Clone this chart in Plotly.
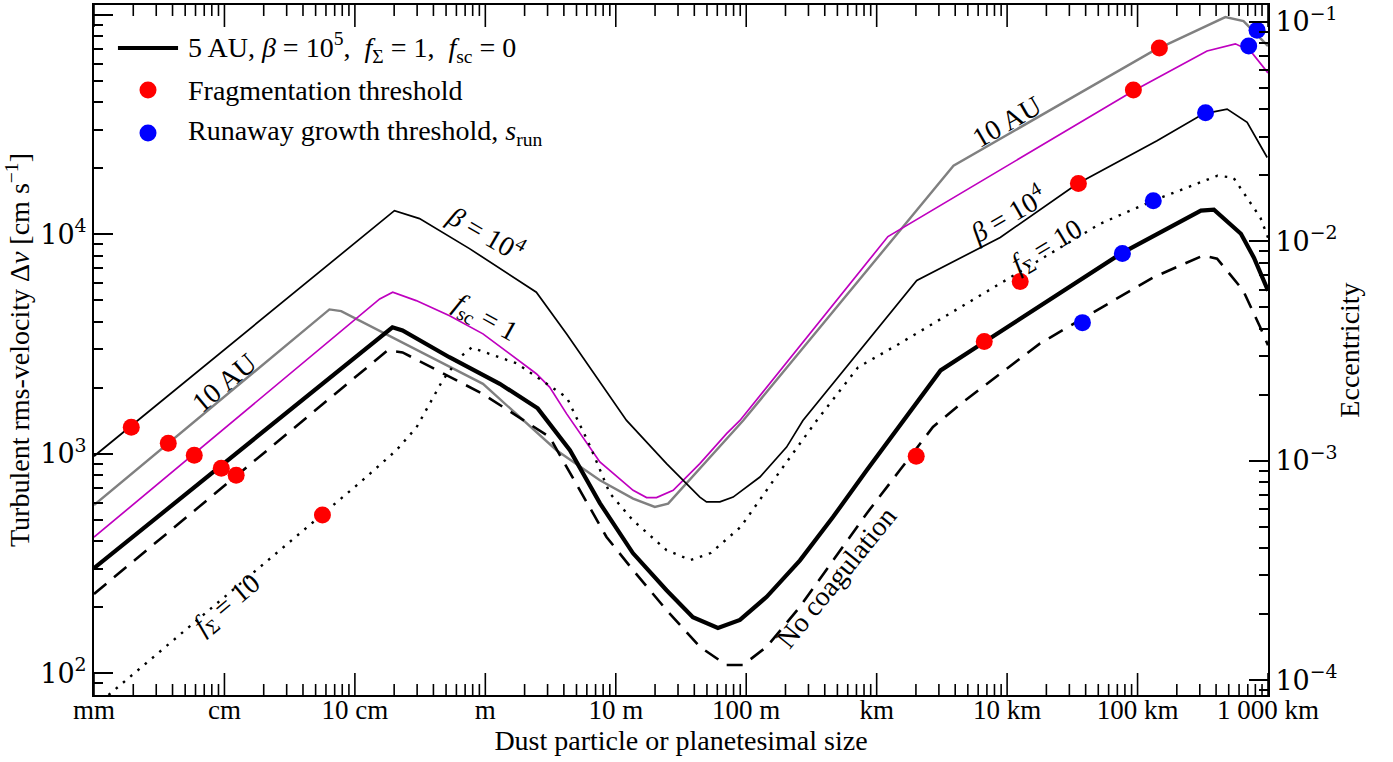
import numpy as np
import plotly.graph_objects as go

# Particle / planetesimal size s [cm] and turbulent rms velocity dv [cm/s]

# 5 AU, beta = 1e5, f_Sigma = 1, f_sc = 0 (reference model)
ref_s = [0.1, 19.4, 23.2, 53, 129, 252, 445, 755, 1352, 2450, 3900, 6070, 8950,
         14350, 25830, 46240, 83900, 160700, 309000, 660000, 7.44e6, 3.06e7,
         3.85e7, 6.2e7, 7.8e7, 1e8]
ref_v = [301, 3770, 3650, 2755, 2085, 1611, 1038, 596, 353, 239, 180, 161, 175,
         223, 327, 515, 841, 1419, 2399, 3213, 8168, 12820,
         12950, 10060, 7830, 5540]

# no coagulation
nocoag_s = [0.1, 17.8, 23.2, 95, 311, 849, 1358, 2450, 4410, 7070, 9440, 14350,
            25830, 46240, 83900, 150300, 270000, 435000, 1.79e6, 1.32e7, 3.18e7,
            4.07e7, 6.45e7, 8.7e7, 1e8]
nocoag_v = [230, 2958, 2898, 1879, 1192, 418, 295, 194, 132, 109, 109, 132,
            201, 327, 535, 841, 1325, 1680, 3185, 6370, 8000,
            7750, 5550, 3780, 3120]

# f_Sigma = 10
fsig_s = [0.1, 5.64, 10.8, 20.8, 29.7, 47, 63.5, 78.5, 174, 421, 631, 900, 1352,
          2450, 3750, 5340, 9060, 18370, 34700, 71900, 151000, 885000, 5.19e6,
          1.32e7, 4.09e7, 5.43e7, 8.75e7, 1e8]
fsig_v = [70, 526, 735, 1038, 1321, 2158, 2748, 3050, 2582, 1807, 1094, 661, 498,
          364, 328, 353, 464, 841, 1419, 2477, 3187, 5970, 11190,
          14240, 18490, 18130, 11900, 9660]

# beta = 1e4
beta_s = [0.1, 20.1, 31.3, 75.6, 246, 419, 1209, 2450, 4410, 4960, 6280, 7940,
          12740, 20400, 27200, 151000, 203000, 885000, 3.43e6, 1.41e7, 3.2e7,
          4.86e7, 6.92e7, 9.86e7]
beta_v = [975, 12820, 11800, 8610, 5450, 3520, 1419, 902, 635, 604, 604, 635,
          784, 1073, 1419, 5000, 6160, 9680, 16940, 26680, 35400,
          37200, 32360, 22400]

# f_sc = 1
fsc_s = [0.1, 15.5, 19.5, 29.5, 53.2, 95.9, 246, 311, 419, 755, 1358, 1722, 2052,
         2754, 4410, 7070, 8950, 122000, 9.33e6, 3.41e7, 5.62e7, 7.34e7, 1e8]
fsc_v = [417, 5080, 5450, 4990, 4260, 3520, 2317, 2014, 1524, 918, 682, 632, 632,
         682, 902, 1236, 1419, 9770, 45100, 68500, 73800, 68500, 54400]

# 10 AU
au10_s = [0.1, 6.38, 7.85, 16.4, 95.9, 351, 755, 1358, 1993, 2520, 3285, 4960,
          9480, 388000, 1.32e7, 4.71e7, 6.49e7, 1e8]
au10_v = [584, 4550, 4470, 3580, 2084, 1038, 757, 625, 573, 593, 706, 933,
          1419, 20560, 68500, 97700, 93700, 72100]

# fragmentation thresholds
frag_s = [0.193, 0.371, 0.587, 0.946, 1.23, 5.64, 201000, 668000, 1.26e6,
          3.52e6, 9.29e6, 1.47e7]
frag_v = [1321, 1117, 984, 859, 798, 526, 975, 3250, 6100, 17030, 45500, 70600]

# runaway growth thresholds s_run
run_s = [3.78e6, 7.65e6, 1.32e7, 3.32e7, 7.11e7, 8.24e7]
run_v = [3960, 8170, 14230, 35800, 72100, 85100]

# axis ticks
size_ticks = [0.1, 1, 10, 100, 1e3, 1e4, 1e5, 1e6, 1e7, 1e8]
size_labels = ["mm", "cm", "10 cm", "m", "10 m", "100 m", "km", "10 km",
               "100 km", "1 000 km"]
dv_ticks = [1e2, 1e3, 1e4, 1e5]
dv_labels = ["10<sup>2</sup>", "10<sup>3</sup>", "10<sup>4</sup>", "10<sup>5</sup>"]
ecc_ticks = [1e-4, 1e-3, 1e-2, 1e-1]
ecc_labels = ["10<sup>\u22124</sup>", "10<sup>\u22123</sup>",
              "10<sup>\u22122</sup>", "10<sup>\u22121</sup>"]

V_KEPLER = 9.3e5          # cm/s, eccentricity = dv / V_KEPLER
DV_LOG_RANGE = [1.901, 5.045]
SIZE_LOG_RANGE = [-1.0, 8.0]
PLOT_HEIGHT_PX = 690      # height of the plotting area

SERIF = "Liberation Serif, Times New Roman, Times, serif"
MATH_SERIF = "DejaVu Serif, serif"
MAGENTA = "#bf00bf"
GRAY = "#808080"


def minor_vals(lo_exp, hi_exp):
    vals = []
    for e in range(lo_exp, hi_exp + 1):
        for m in range(2, 10):
            vals.append(float(f"{m}e{e}"))
    return vals


size_minor_ticks = minor_vals(-1, 7)

fig = go.Figure()


def add_curve(s, v, color, width, dash="solid"):
    fig.add_trace(go.Scatter(
        x=s, y=v, mode="lines", showlegend=False, hoverinfo="skip",
        line=dict(color=color, width=width, dash=dash, shape="linear"),
    ))


add_curve(au10_s, au10_v, GRAY, 2.4)
add_curve(fsc_s, fsc_v, MAGENTA, 1.7)
add_curve(beta_s, beta_v, "black", 1.7)
add_curve(fsig_s, fsig_v, "black", 2.4, dash="2.5px,7px")
add_curve(nocoag_s, nocoag_v, "black", 2.6, dash="16px,10px")
add_curve(ref_s, ref_v, "black", 4.2)

fig.add_trace(go.Scatter(
    x=frag_s, y=frag_v, mode="markers", showlegend=False, hoverinfo="skip",
    marker=dict(color="#ff0000", size=17, line=dict(width=0)),
))
fig.add_trace(go.Scatter(
    x=run_s, y=run_v, mode="markers", showlegend=False, hoverinfo="skip",
    marker=dict(color="#0000ff", size=17, line=dict(width=0)),
))

# size-axis tick marks on the bottom and top frame edges, drawn as short
# vertical segments; the tick length in pixels is converted to decades of
# the velocity axis
decades_per_px = (DV_LOG_RANGE[1] - DV_LOG_RANGE[0]) / PLOT_HEIGHT_PX
for vals, tick_px in [(size_ticks, 22), (size_minor_ticks, 11)]:
    dlog = tick_px * decades_per_px
    xs, ys = [], []
    for v in vals:
        xs += [v, v, None, v, v, None]
        ys += [10 ** DV_LOG_RANGE[0], 10 ** (DV_LOG_RANGE[0] + dlog), None,
               10 ** DV_LOG_RANGE[1], 10 ** (DV_LOG_RANGE[1] - dlog), None]
    fig.add_trace(go.Scatter(
        x=xs, y=ys, mode="lines", showlegend=False, hoverinfo="skip",
        connectgaps=False, line=dict(color="black", width=1.6),
    ))

# invisible carrier so that the eccentricity axis is drawn
fig.add_trace(go.Scatter(
    x=ref_s, y=[v / V_KEPLER for v in ref_v], yaxis="y2", mode="lines",
    showlegend=False, hoverinfo="skip", opacity=0,
    line=dict(color="black", width=0.1),
))

axis_common = dict(
    showgrid=False, zeroline=False, showline=True, linecolor="black",
    linewidth=2, tickcolor="black", tickwidth=1.5, automargin=False,
)

fig.update_layout(
    width=1393, height=762,
    margin=dict(l=94, r=125, t=5, b=67),
    paper_bgcolor="white", plot_bgcolor="white",
    font=dict(family=SERIF, size=27, color="black"),
    showlegend=False,
    xaxis=dict(
        type="log", range=SIZE_LOG_RANGE, mirror=True, ticks="inside",
        tickmode="array", tickvals=size_ticks, ticktext=size_labels,
        ticklen=0, ticklabelstandoff=-10,
        tickfont=dict(family=SERIF, size=27),
        title=dict(text="Dust particle or planetesimal size",
                   font=dict(family=SERIF, size=28), standoff=0),
        **axis_common,
    ),
    yaxis=dict(
        type="log", range=DV_LOG_RANGE, mirror=False, ticks="inside",
        tickmode="array", tickvals=dv_ticks, ticktext=dv_labels,
        ticklen=19,
        tickfont=dict(family=MATH_SERIF, size=27),
        minor=dict(tickmode="array", tickvals=minor_vals(1, 4),
                   ticks="inside", ticklen=9, tickwidth=1.5,
                   tickcolor="black", showgrid=False),
        title=dict(text="Turbulent rms-velocity \u0394<i>v</i> [cm s<sup>\u22121</sup>]",
                   font=dict(family=SERIF, size=28), standoff=2),
        **axis_common,
    ),
    yaxis2=dict(
        type="log", overlaying="y", side="right", anchor="x", ticks="inside",
        range=[DV_LOG_RANGE[0] - np.log10(V_KEPLER),
               DV_LOG_RANGE[1] - np.log10(V_KEPLER)],
        tickmode="array", tickvals=ecc_ticks, ticktext=ecc_labels,
        ticklen=19,
        tickfont=dict(family=MATH_SERIF, size=27),
        minor=dict(tickmode="array", tickvals=minor_vals(-5, -1),
                   ticks="inside", ticklen=9, tickwidth=1.5,
                   tickcolor="black", showgrid=False),
        title=dict(text="Eccentricity", font=dict(family=SERIF, size=28),
                   standoff=3),
        **axis_common,
    ),
)

# curve labels (positions in log10 data units)
curve_labels = [
    ("10 AU", 0.0, 3.325, -40),
    ("<i>\u03b2</i> = 10<sup>4</sup>", 2.01, 4.01, 30),
    ("<i>f</i><sub>sc</sub> = 1", 1.995, 3.616, 29),
    ("<i>f</i><sub>\u03a3</sub> = 10", 0.022, 2.311, -40),
    ("No coagulation", 4.689, 2.438, -51),
    ("10 AU", 6.001, 4.512, -30),
    ("<i>\u03b2</i> = 10<sup>4</sup>", 6.001, 4.094, -30),
    ("<i>f</i><sub>\u03a3</sub> = 10", 6.308, 3.939, -31),
]
for text, lx, ly, ang in curve_labels:
    fig.add_annotation(
        x=lx, y=ly, xref="x", yref="y", text=text, showarrow=False,
        textangle=ang, font=dict(family=SERIF, size=28, color="black"),
        xanchor="center", yanchor="middle",
    )

# legend box drawn in paper coordinates
leg_line_y = 0.9377
leg_rows = [0.8768, 0.8145]
leg_sym_x = 0.046
leg_text_x = 0.0784
fig.add_shape(type="line", xref="paper", yref="paper",
              x0=0.0204, x1=0.0716, y0=leg_line_y, y1=leg_line_y,
              line=dict(color="black", width=4.2))
for yy, col in zip(leg_rows, ["#ff0000", "#0000ff"]):
    fig.add_shape(type="circle", xref="paper", yref="paper",
                  xsizemode="pixel", ysizemode="pixel",
                  xanchor=leg_sym_x, yanchor=yy,
                  x0=-8.5, x1=8.5, y0=-8.5, y1=8.5,
                  fillcolor=col, line=dict(width=0))
legend_texts = [
    (leg_line_y, "5 AU, <i>\u03b2</i> = 10<sup>5</sup>,  <i>f</i><sub>\u03a3</sub> = 1,  <i>f</i><sub>sc</sub> = 0"),
    (leg_rows[0], "Fragmentation threshold"),
    (leg_rows[1], "Runaway growth threshold, <i>s</i><sub>run</sub>"),
]
for yy, text in legend_texts:
    fig.add_annotation(x=leg_text_x, y=yy, xref="paper", yref="paper",
                       text=text, showarrow=False, xanchor="left",
                       yanchor="middle",
                       font=dict(family=SERIF, size=28, color="black"))

fig.write_html("out.html")
